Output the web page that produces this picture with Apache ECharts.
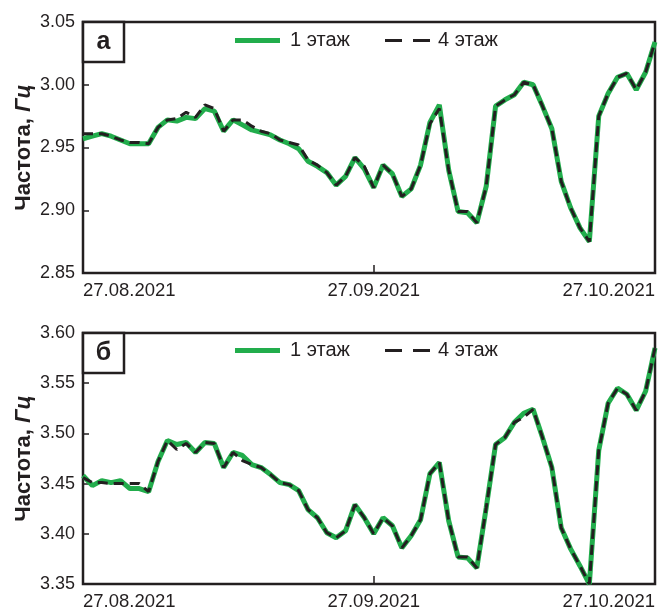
<!DOCTYPE html>
<html>
<head>
<meta charset="utf-8">
<script src="https://cdn.jsdelivr.net/npm/echarts@6/dist/echarts.min.js"></script>
<style>
  html, body { margin: 0; padding: 0; background: #fff; }
  #chart { width: 660px; height: 615px; }
</style>
</head>
<body>
<div id="chart"></div>
<script>
// дни от 27.08.2021, подписи оси X
var tickDays = [0, 31, 61];
var tickLabels = ['27.08.2021', '27.09.2021', '27.10.2021'];
var seriesNames = ['1 этаж', '4 этаж'];

// (а) частота, Гц, по дням
var topFloor1 = [2.957, 2.959, 2.961, 2.959, 2.956, 2.953, 2.953, 2.953, 2.966, 2.972,
  2.971, 2.974, 2.973, 2.981, 2.979, 2.963, 2.972, 2.968, 2.964, 2.962,
  2.960, 2.956, 2.953, 2.949, 2.939, 2.935, 2.930, 2.920, 2.927, 2.942,
  2.933, 2.918, 2.936, 2.929, 2.911, 2.917, 2.936, 2.970, 2.984, 2.932,
  2.899, 2.898, 2.890, 2.919, 2.983, 2.988, 2.992, 3.002, 3.000, 2.983,
  2.965, 2.923, 2.902, 2.886, 2.875, 2.975, 2.993, 3.006, 3.009, 2.996,
  3.010, 3.034];
var topFloor4 = [2.961, 2.961, 2.961, 2.959, 2.956, 2.954, 2.954, 2.953, 2.966, 2.972,
  2.973, 2.978, 2.974, 2.984, 2.981, 2.963, 2.972, 2.972, 2.967, 2.963,
  2.961, 2.956, 2.954, 2.952, 2.940, 2.936, 2.930, 2.920, 2.927, 2.942,
  2.935, 2.918, 2.936, 2.929, 2.911, 2.917, 2.936, 2.969, 2.981, 2.932,
  2.899, 2.899, 2.890, 2.919, 2.983, 2.988, 2.992, 3.002, 3.000, 2.983,
  2.965, 2.923, 2.902, 2.886, 2.875, 2.975, 2.993, 3.006, 3.009, 2.996,
  3.010, 3.034];

// (б)
var bottomFloor1 = [3.458, 3.448, 3.453, 3.451, 3.453, 3.445, 3.445, 3.442, 3.472, 3.493,
  3.489, 3.491, 3.481, 3.491, 3.490, 3.466, 3.481, 3.478, 3.469, 3.466,
  3.459, 3.451, 3.449, 3.443, 3.424, 3.416, 3.401, 3.396, 3.403, 3.429,
  3.416, 3.400, 3.416, 3.408, 3.386, 3.398, 3.414, 3.460, 3.471, 3.413,
  3.377, 3.376, 3.366, 3.426, 3.489, 3.496, 3.511, 3.520, 3.524, 3.496,
  3.466, 3.406, 3.385, 3.368, 3.350, 3.483, 3.530, 3.545, 3.539, 3.523,
  3.542, 3.585];
var bottomFloor4 = [3.456, 3.451, 3.451, 3.450, 3.450, 3.450, 3.450, 3.442, 3.472, 3.493,
  3.484, 3.490, 3.481, 3.491, 3.490, 3.466, 3.481, 3.473, 3.469, 3.466,
  3.459, 3.451, 3.449, 3.443, 3.424, 3.416, 3.401, 3.396, 3.403, 3.429,
  3.416, 3.400, 3.416, 3.408, 3.386, 3.398, 3.414, 3.460, 3.471, 3.413,
  3.377, 3.377, 3.366, 3.426, 3.489, 3.496, 3.511, 3.516, 3.524, 3.496,
  3.466, 3.406, 3.385, 3.368, 3.350, 3.483, 3.530, 3.545, 3.539, 3.523,
  3.542, 3.585];

var ink = '#231f20';
var green = '#22ad4c';
var font = '"Liberation Sans", Arial, sans-serif';

function pairs(arr) {
  return arr.map(function (v, i) { return [i, v]; });
}

function makeX(gi) {
  return {
    type: 'value', gridIndex: gi, min: 0, max: 61, interval: 31,
    axisLine: { show: false },
    axisTick: { inside: true, length: 8, lineStyle: { color: ink, width: 1.5 } },
    splitLine: { show: false },
    axisLabel: {
      color: ink, fontSize: 18.5, fontFamily: font, margin: 8,
      alignMinLabel: 'left', alignMaxLabel: 'right',
      formatter: function (v) {
        var k = tickDays.indexOf(v);
        return k < 0 ? '' : tickLabels[k];
      }
    }
  };
}

function makeY(gi, min, max) {
  return {
    type: 'value', gridIndex: gi, min: min, max: max, interval: 0.05,
    axisLine: { show: false },
    axisTick: { inside: true, length: 6, lineStyle: { color: ink, width: 1.5 } },
    splitLine: { show: false },
    axisLabel: {
      color: ink, fontSize: 18, fontFamily: font, margin: 8,
      formatter: function (v) { return v.toFixed(2); }
    },
    name: '{b|Частота, }{i|Гц}',
    nameLocation: 'middle',
    nameGap: 48,
    nameMoveOverlap: false,
    nameTextStyle: {
      rich: {
        b: { fontSize: 22, fontWeight: 'bold', color: ink, fontFamily: font },
        i: { fontSize: 22, fontWeight: 'bold', fontStyle: 'italic', color: ink, fontFamily: font }
      }
    }
  };
}

// одна легенда на каждую подпись, чтобы задать свою высоту значка
function makeLegend(k, left, centerY) {
  var h = k === 0 ? 5 : 3;
  return {
    left: left, top: centerY - 11.5, padding: 0, itemWidth: 45, itemHeight: h,
    textStyle: { fontSize: 20, color: ink, fontFamily: font, padding: [0, 0, 0, k === 0 ? 5 : 3] },
    data: [{
      name: seriesNames[k],
      icon: k === 0 ? 'rect' : 'path://M0 0H17V3H0Z M28 0H45V3H28Z'
    }]
  };
}

function lineSeries(name, gi, values, dashed) {
  return {
    name: name, type: 'line', xAxisIndex: gi, yAxisIndex: gi,
    data: pairs(values), symbol: 'none', animation: false,
    lineStyle: dashed
      ? { color: ink, width: 3, type: [10, 6] }
      : { color: green, width: 5 },
    itemStyle: { color: dashed ? ink : green },
    z: dashed ? 3 : 2
  };
}

function panelBox(y, letter) {
  return [
    { type: 'rect', shape: { x: 83, y: y, width: 41, height: 40 },
      style: { fill: '#fff', stroke: ink, lineWidth: 2.5 }, z: 10 },
    { type: 'text', x: 103.5, y: y + 20, z: 11,
      style: { text: letter, font: 'bold 25px "Liberation Sans", Arial, sans-serif',
        fill: ink, align: 'center', verticalAlign: 'middle' } }
  ];
}

var chart = echarts.init(document.getElementById('chart'));
chart.setOption({
  backgroundColor: '#fff',
  animation: false,
  grid: [
    { left: 83, top: 22, width: 572, height: 251, show: true, borderColor: ink, borderWidth: 2.5 },
    { left: 83, top: 333, width: 572, height: 251, show: true, borderColor: ink, borderWidth: 2.5 }
  ],
  xAxis: [makeX(0), makeX(1)],
  yAxis: [makeY(0, 2.85, 3.05), makeY(1, 3.35, 3.60)],
  legend: [
    makeLegend(0, 235, 42), makeLegend(1, 385, 42),
    makeLegend(0, 235, 352), makeLegend(1, 385, 352)
  ],
  series: [
    lineSeries(seriesNames[0], 0, topFloor1, false),
    lineSeries(seriesNames[1], 0, topFloor4, true),
    lineSeries(seriesNames[0], 1, bottomFloor1, false),
    lineSeries(seriesNames[1], 1, bottomFloor4, true)
  ],
  graphic: panelBox(22, 'а').concat(panelBox(333, 'б'))
});
</script>
</body>
</html>
